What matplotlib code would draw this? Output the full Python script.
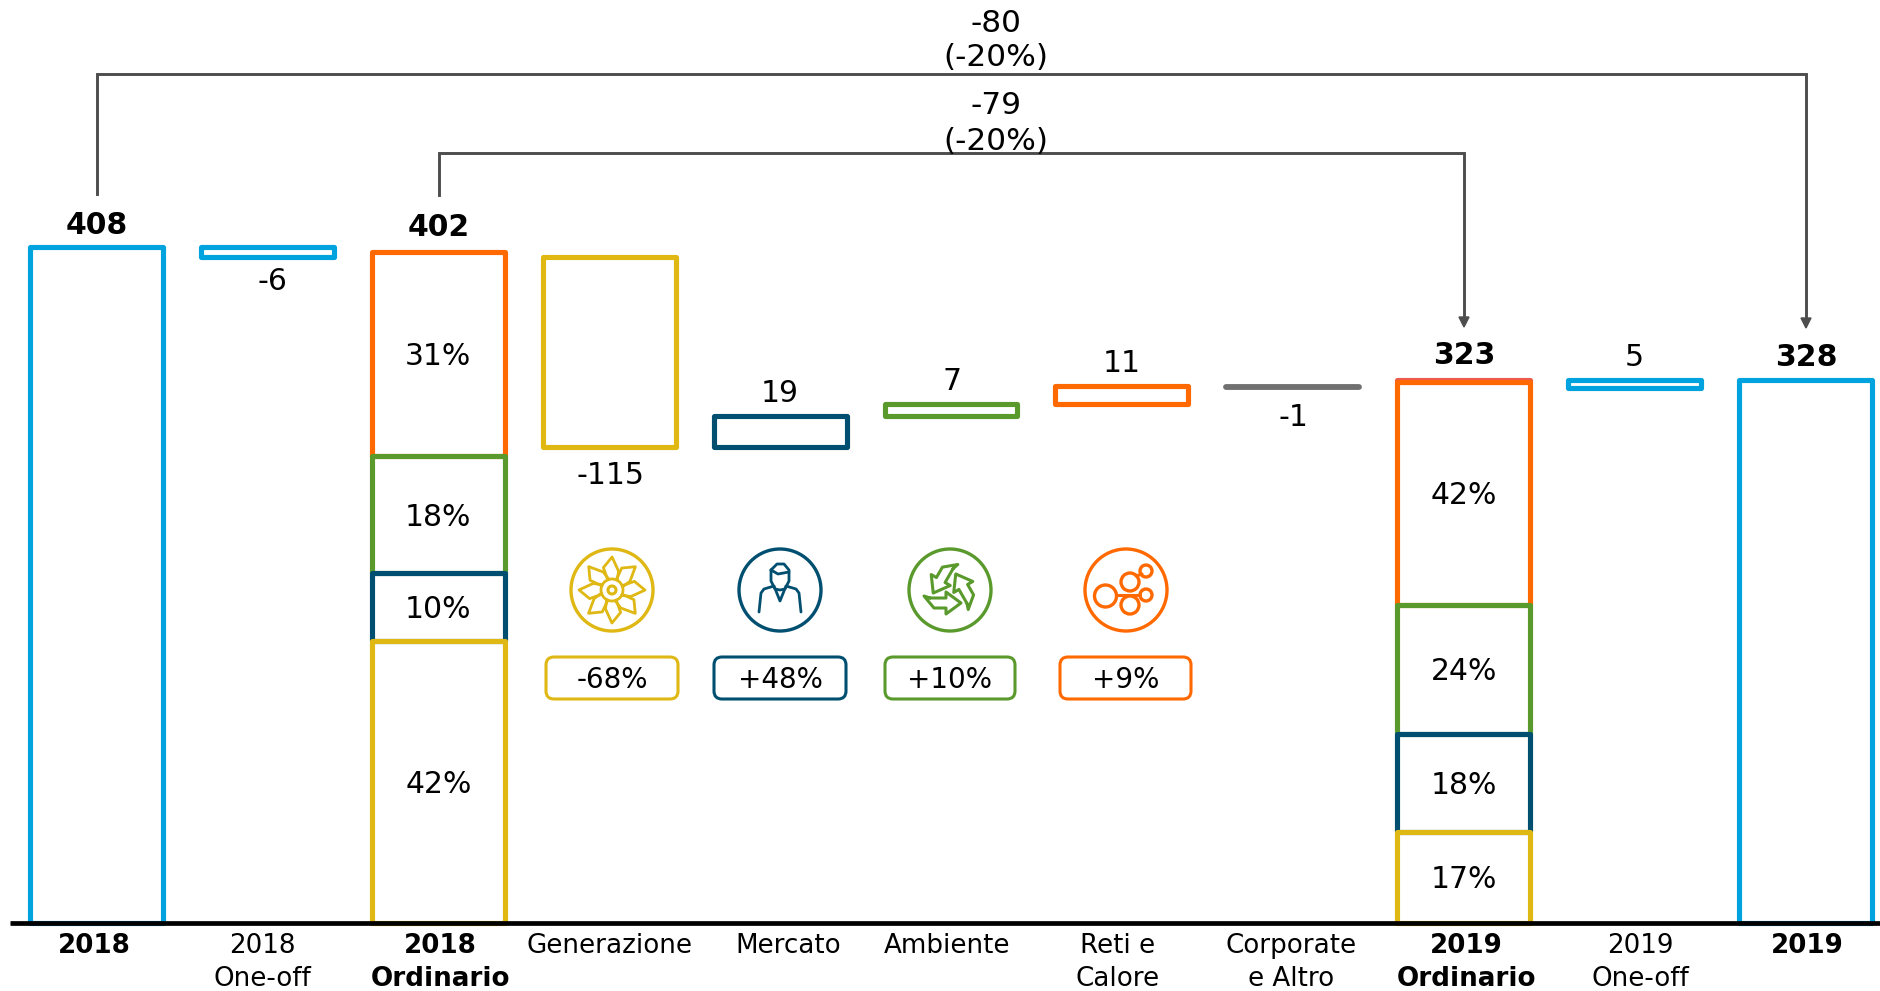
import numpy as np
import matplotlib
matplotlib.use('Agg')
import matplotlib.pyplot as plt
from matplotlib.patches import Circle, FancyBboxPatch, Polygon
from matplotlib.transforms import Affine2D

plt.rcParams['font.family'] = ['DejaVu Sans']

BLUE = '#00a3de'
ORANGE = '#ff6900'
GREEN = '#5a9a2d'
NAVY = '#004f71'
YELLOW = '#dfb813'
GRAY = '#707070'
RED = '#ee5a50'
DARK = '#4d4d4d'

labels = ['2018', '2018\nOne-off', '2018\nOrdinario', 'Generazione', 'Mercato', 'Ambiente',
          'Reti e\nCalore', 'Corporate\ne Altro', '2019\nOrdinario', '2019\nOne-off', '2019']
label_bold = [True, False, True, False, False, False, False, False, True, False, True]
label_px = [94, 262, 440, 610, 788, 947, 1118, 1291, 1466, 1640, 1807]

# waterfall: position, bottom, top, colour, text
total_2018 = 408
total_2019 = 328
float_pos = [1, 3, 4, 5, 6, 9]
float_bottom = [402, 287, 287, 306, 313, 323]
float_top = [408, 402, 306, 313, 324, 328]
float_color = [BLUE, YELLOW, NAVY, GREEN, ORANGE, BLUE]

stack_2018 = [170, 41, 71, 123]
stack_2018_txt = ['42%', '10%', '18%', '31%']
stack_2019 = [55, 59, 78, 134.5, 1]
stack_2019_txt = ['17%', '18%', '24%', '42%', '']
stack_colors = [YELLOW, NAVY, GREEN, ORANGE, RED]

driver_txt = ['-68%', '+48%', '+10%', '+9%']
driver_colors = [YELLOW, NAVY, GREEN, ORANGE]

W, H = 1881, 991
BASE = 923        # pixel row of the axis line
K = 1.657         # pixels per unit
X0, DX = 96.5, 170.9


def yv(py):
    return (BASE - py) / K


def xv(px):
    return (px - X0) / DX


fig = plt.figure(figsize=(W / 100, H / 100), dpi=100)
ax = fig.add_axes([0, 0, 1, 1])
ax.set_xlim(xv(0), xv(W))
ax.set_ylim(yv(H), yv(0))
ax.axis('off')

px = Affine2D().scale(1 / W, -1 / H).translate(0, 1) + fig.transFigure

LW = 3.7
BW = 0.778


def bar(x, h, bottom, color):
    b = ax.bar(x, h, BW, bottom=bottom, fill=False, edgecolor=color, linewidth=LW)[0]
    b.set_joinstyle('round')
    return b


bar(0, total_2018, 0, BLUE)
bar(10, total_2019, 0, BLUE)
for p, b, t, c in zip(float_pos, float_bottom, float_top, float_color):
    bar(p, t - b, b, c)
ax.plot([7 - BW / 2, 7 + BW / 2], [323.5, 323.5], color=GRAY, lw=4.2, solid_capstyle='round')

for pos, vals, txts in [(2, stack_2018, stack_2018_txt), (8, stack_2019, stack_2019_txt)]:
    bottoms = np.concatenate([[0], np.cumsum(vals)[:-1]])
    # lower segments sit on top of the ones above them
    for i in reversed(range(len(vals))):
        bar(pos, vals[i], bottoms[i], stack_colors[i])
    for v, b, s in zip(vals, bottoms, txts):
        ax.text(pos, b + v / 2 - 1.5, s, ha='center', va='center', fontsize=21.5)

ax.plot([xv(10), xv(W)], [0, 0], color='black', lw=3.4, solid_capstyle='butt', zorder=5)


def num(px_x, px_y, s, bold=False, size=21.5):
    ax.text(xv(px_x), yv(px_y + 2), s, ha='center', va='center', fontsize=size,
            fontweight='bold' if bold else 'normal')


num(97, 223, '408', True, 21.5)
num(439, 226, '402', True, 21.5)
num(1464, 354, '323', True, 21.5)
num(1806, 356, '328', True, 21.5)
num(272, 280, '-6')
num(610, 473, '-115')
num(780, 392, '19')
num(952, 380, '7')
num(1122, 361, '11')
num(1293, 415, '-1')
num(1634, 356, '5')

num(996, 22, '-80', size=22.5)
num(996, 56, '(-20%)', size=22.5)
num(996, 104, '-79', size=22.5)
num(996, 139, '(-20%)', size=22.5)

# brackets
for x1, x2, top, start, end in [(97, 1806, 74, 194, 328), (439, 1464, 153, 195, 327)]:
    ax.plot([xv(x1), xv(x1), xv(x2), xv(x2)], [yv(start), yv(top), yv(top), yv(end - 8)],
            color=DARK, lw=2.1, solid_joinstyle='miter')
    ax.add_patch(Polygon([(x2 - 5, end - 10), (x2 + 5, end - 10), (x2, end)], closed=True,
                         color=DARK, transform=px))

# category labels
for s, x, b in zip(labels, label_px, label_bold):
    for j, line in enumerate(s.split('\n')):
        ax.text(xv(x), yv(946 + 33 * j), line, ha='center', va='center', fontsize=18.8,
                fontweight='bold' if b else 'normal')

# driver boxes
boxes = [(546, 678), (714, 846), (885, 1015), (1060, 1191)]
for (l, r), s, c in zip(boxes, driver_txt, driver_colors):
    ax.add_patch(FancyBboxPatch((l + 8, 665), r - l - 16, 26,
                                boxstyle='round,pad=8,rounding_size=8', fill=False, edgecolor=c,
                                linewidth=2.2, transform=px))
    ax.text((l + r) / 2, 680, s, ha='center', va='center', fontsize=20, transform=px)


def ring(cx, cy, r, c, lw=2.0):
    ax.add_patch(Circle((cx, cy), r, fill=False, edgecolor=c, linewidth=lw, transform=px))


def poly(cx, pts, c, cy=590, lw=2.0, closed=False):
    xs = [cx + p[0] for p in pts]
    ys = [cy + p[1] for p in pts]
    if closed:
        xs.append(xs[0])
        ys.append(ys[0])
    ax.plot(xs, ys, color=c, lw=lw, transform=px, solid_capstyle='round')


# icon: turbine
cx = 612
ring(cx, 590, 41, YELLOW, 2.4)
ring(cx, 590, 4, YELLOW, 2.2)
ring(cx, 590, 11, YELLOW, 2.0)
for a in np.deg2rad(np.arange(0, 360, 45) + 3):
    rot = lambda r, d: (r * np.cos(a + d), r * np.sin(a + d))
    poly(cx, [rot(11, -0.45), rot(24, -0.42), rot(33, -0.05), rot(20, 0.28), rot(11, 0.45)], YELLOW)

# icon: person
cx = 780
ring(cx, 590, 41, NAVY, 2.4)
poly(cx, [(-9, -20), (-9, -9), (-5, -1), (0, 0), (5, -1), (9, -9), (9, -20), (4, -26), (-3, -26), (-9, -20)], NAVY)
poly(cx, [(-9, -20), (-2, -16), (9, -18)], NAVY)
poly(cx, [(-21, 22), (-19, 3), (-16, -1), (-6, -4), (0, 11), (6, -4), (16, -1), (19, 3), (21, 22)], NAVY)

# icon: recycle
cx = 950
ring(cx, 590, 41, GREEN, 2.4)
band = [(-20, 8), (-4, 8), (-4, 2), (11, 13), (-4, 24), (-4, 18), (-16, 18), (-26, 6)]
for a0 in np.deg2rad([0, 120, 240]):
    c0, s0 = np.cos(a0), np.sin(a0)
    poly(cx, [(u * c0 - v * s0, u * s0 + v * c0) for u, v in band], GREEN, closed=True, lw=2.2)

# icon: network
cx = 1126
ring(cx, 590, 41, ORANGE, 2.4)
for dx, dy, r in [(-20.5, 6, 11), (4, -8, 9), (4, 15, 9), (20, -19, 6), (20, 5, 6)]:
    ring(cx + dx, 590 + dy, r, ORANGE, 2.4)
poly(cx, [(-10, 5), (14, 5)], ORANGE, lw=2.2)
poly(cx, [(10, -14), (16, -16)], ORANGE, lw=2.2)

fig.savefig('out.png', dpi=100)
